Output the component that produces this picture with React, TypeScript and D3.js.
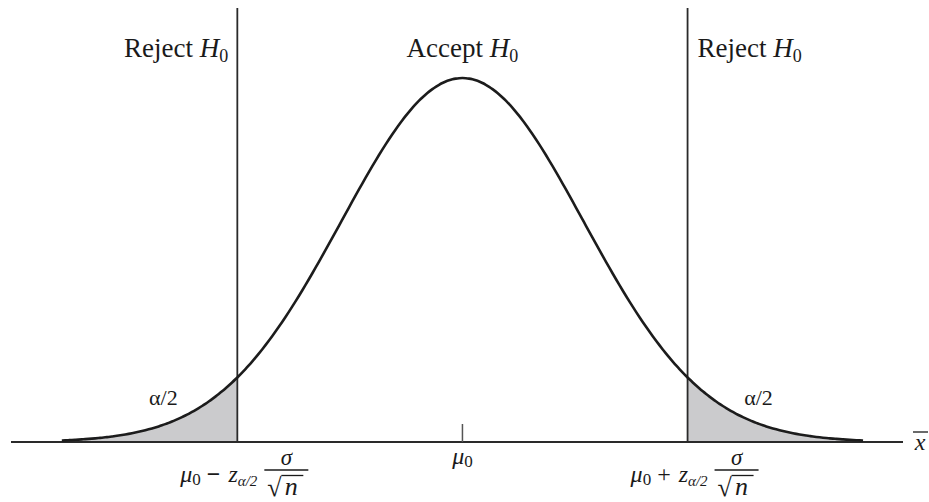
import React from "react";
import * as d3 from "d3";

// Sampling distribution of the sample mean under H0 (standardised units)
const mean = 0;
const sd = 1;
const criticalZ = 1.86;
const curveExtent: [number, number] = [-3.31, 3.31];
const axisExtent: [number, number] = [-3.73, 3.64];
const sampleCount = 241;

const regionLabels = ["Reject", "Accept", "Reject"];
const tailLabel = "α/2";

const W = 929;
const H = 502;
const FONT = "'Liberation Serif', 'Times New Roman', serif";

const normalPdf = (x: number) =>
  Math.exp(-0.5 * ((x - mean) / sd) ** 2) / (sd * Math.sqrt(2 * Math.PI));

export default function App() {
  const x = d3.scaleLinear().domain(axisExtent).range([11, 903]);
  const y = d3.scaleLinear().domain([0, normalPdf(mean)]).range([442, 78]);

  const samples = d3
    .range(sampleCount)
    .map((i) => curveExtent[0] + ((curveExtent[1] - curveExtent[0]) * i) / (sampleCount - 1));
  const pts = samples.map((v) => ({ v, d: normalPdf(v) }));

  const line = d3
    .line<{ v: number; d: number }>()
    .x((p) => x(p.v))
    .y((p) => y(p.d))
    .curve(d3.curveBasis);

  const area = d3
    .area<{ v: number; d: number }>()
    .x((p) => x(p.v))
    .y0(y(0))
    .y1((p) => y(p.d))
    .curve(d3.curveBasis);

  const lo = mean - criticalZ * sd;
  const hi = mean + criticalZ * sd;
  const leftTail = pts.filter((p) => p.v <= lo).concat([{ v: lo, d: normalPdf(lo) }]);
  const rightTail = [{ v: hi, d: normalPdf(hi) }].concat(pts.filter((p) => p.v >= hi));

  const xl = x(lo);
  const xh = x(hi);
  const xm = x(mean);
  const axisY = y(0);

  const critLabel = (cx: number, op: string) => (
    <g transform={`translate(${cx},0)`} fontFamily={FONT} fill="#1a1a1a">
      <text x={20} y={482} fontSize={24} textAnchor="end">
        <tspan fontStyle="italic">μ</tspan>
        <tspan fontSize={17} dy={3}>0</tspan>
        <tspan dy={-3} dx={6} fontWeight={op === "−" ? "bold" : "normal"}>{op}</tspan>
        <tspan dx={8} fontStyle="italic">z</tspan>
        <tspan fontSize={15} dy={4} fontStyle="italic">α/2</tspan>
      </text>
      <text x={49} y={465} fontSize={23} textAnchor="middle" fontStyle="italic">σ</text>
      <line x1={27} x2={71} y1={470} y2={470} stroke="#1a1a1a" strokeWidth={1.3} />
      <text x={37} y={496} fontSize={26} textAnchor="middle">√</text>
      <line x1={44} x2={66} y1={475.5} y2={475.5} stroke="#1a1a1a" strokeWidth={1.3} />
      <text x={54} y={495} fontSize={26} textAnchor="middle" fontStyle="italic">n</text>
    </g>
  );

  const hLabel = (label: string) => (
    <>
      {label} <tspan fontStyle="italic">H</tspan>
      <tspan fontSize={18} dy={5}>0</tspan>
    </>
  );

  return (
    <svg
      width={W}
      height={H}
      style={{ position: "fixed", left: 0, top: 0, background: "#fff" }}
    >
      <path d={area(leftTail) ?? ""} fill="#cbcbcd" />
      <path d={area(rightTail) ?? ""} fill="#cbcbcd" />

      <line x1={x(axisExtent[0])} x2={x(axisExtent[1])} y1={axisY} y2={axisY} stroke="#2a2a2a" strokeWidth={2} />
      <line x1={xm} x2={xm} y1={axisY - 18} y2={axisY} stroke="#555" strokeWidth={1.5} />

      <line x1={xl} x2={xl} y1={8} y2={axisY} stroke="#2a2a2a" strokeWidth={1.8} />
      <line x1={xh} x2={xh} y1={8} y2={axisY} stroke="#2a2a2a" strokeWidth={1.8} />

      <path d={line(pts) ?? ""} fill="none" stroke="#1c1c1c" strokeWidth={2.6} />

      <g fontFamily={FONT} fontSize={27} fill="#1a1a1a">
        <text x={xl - 9} y={57} textAnchor="end">{hLabel(regionLabels[0])}</text>
        <text x={xm} y={57} textAnchor="middle">{hLabel(regionLabels[1])}</text>
        <text x={xh + 10} y={57} textAnchor="start">{hLabel(regionLabels[2])}</text>
      </g>

      <g fontFamily={FONT} fontSize={22} fill="#1a1a1a">
        <text x={xl - 74} y={405} textAnchor="middle">{tailLabel}</text>
        <text x={xh + 71} y={405} textAnchor="middle">{tailLabel}</text>
      </g>

      <text x={xm} y={464} fontFamily={FONT} fontSize={24} textAnchor="middle" fill="#1a1a1a">
        <tspan fontStyle="italic">μ</tspan>
        <tspan fontSize={17} dy={3}>0</tspan>
      </text>

      {critLabel(xl, "−")}
      {critLabel(xh, "+")}

      <g fontFamily={FONT} fill="#1a1a1a">
        <text x={920} y={450} fontSize={24} fontStyle="italic" textAnchor="middle">x</text>
        <line x1={913} x2={928} y1={432} y2={432} stroke="#1a1a1a" strokeWidth={1.3} />
      </g>
    </svg>
  );
}
